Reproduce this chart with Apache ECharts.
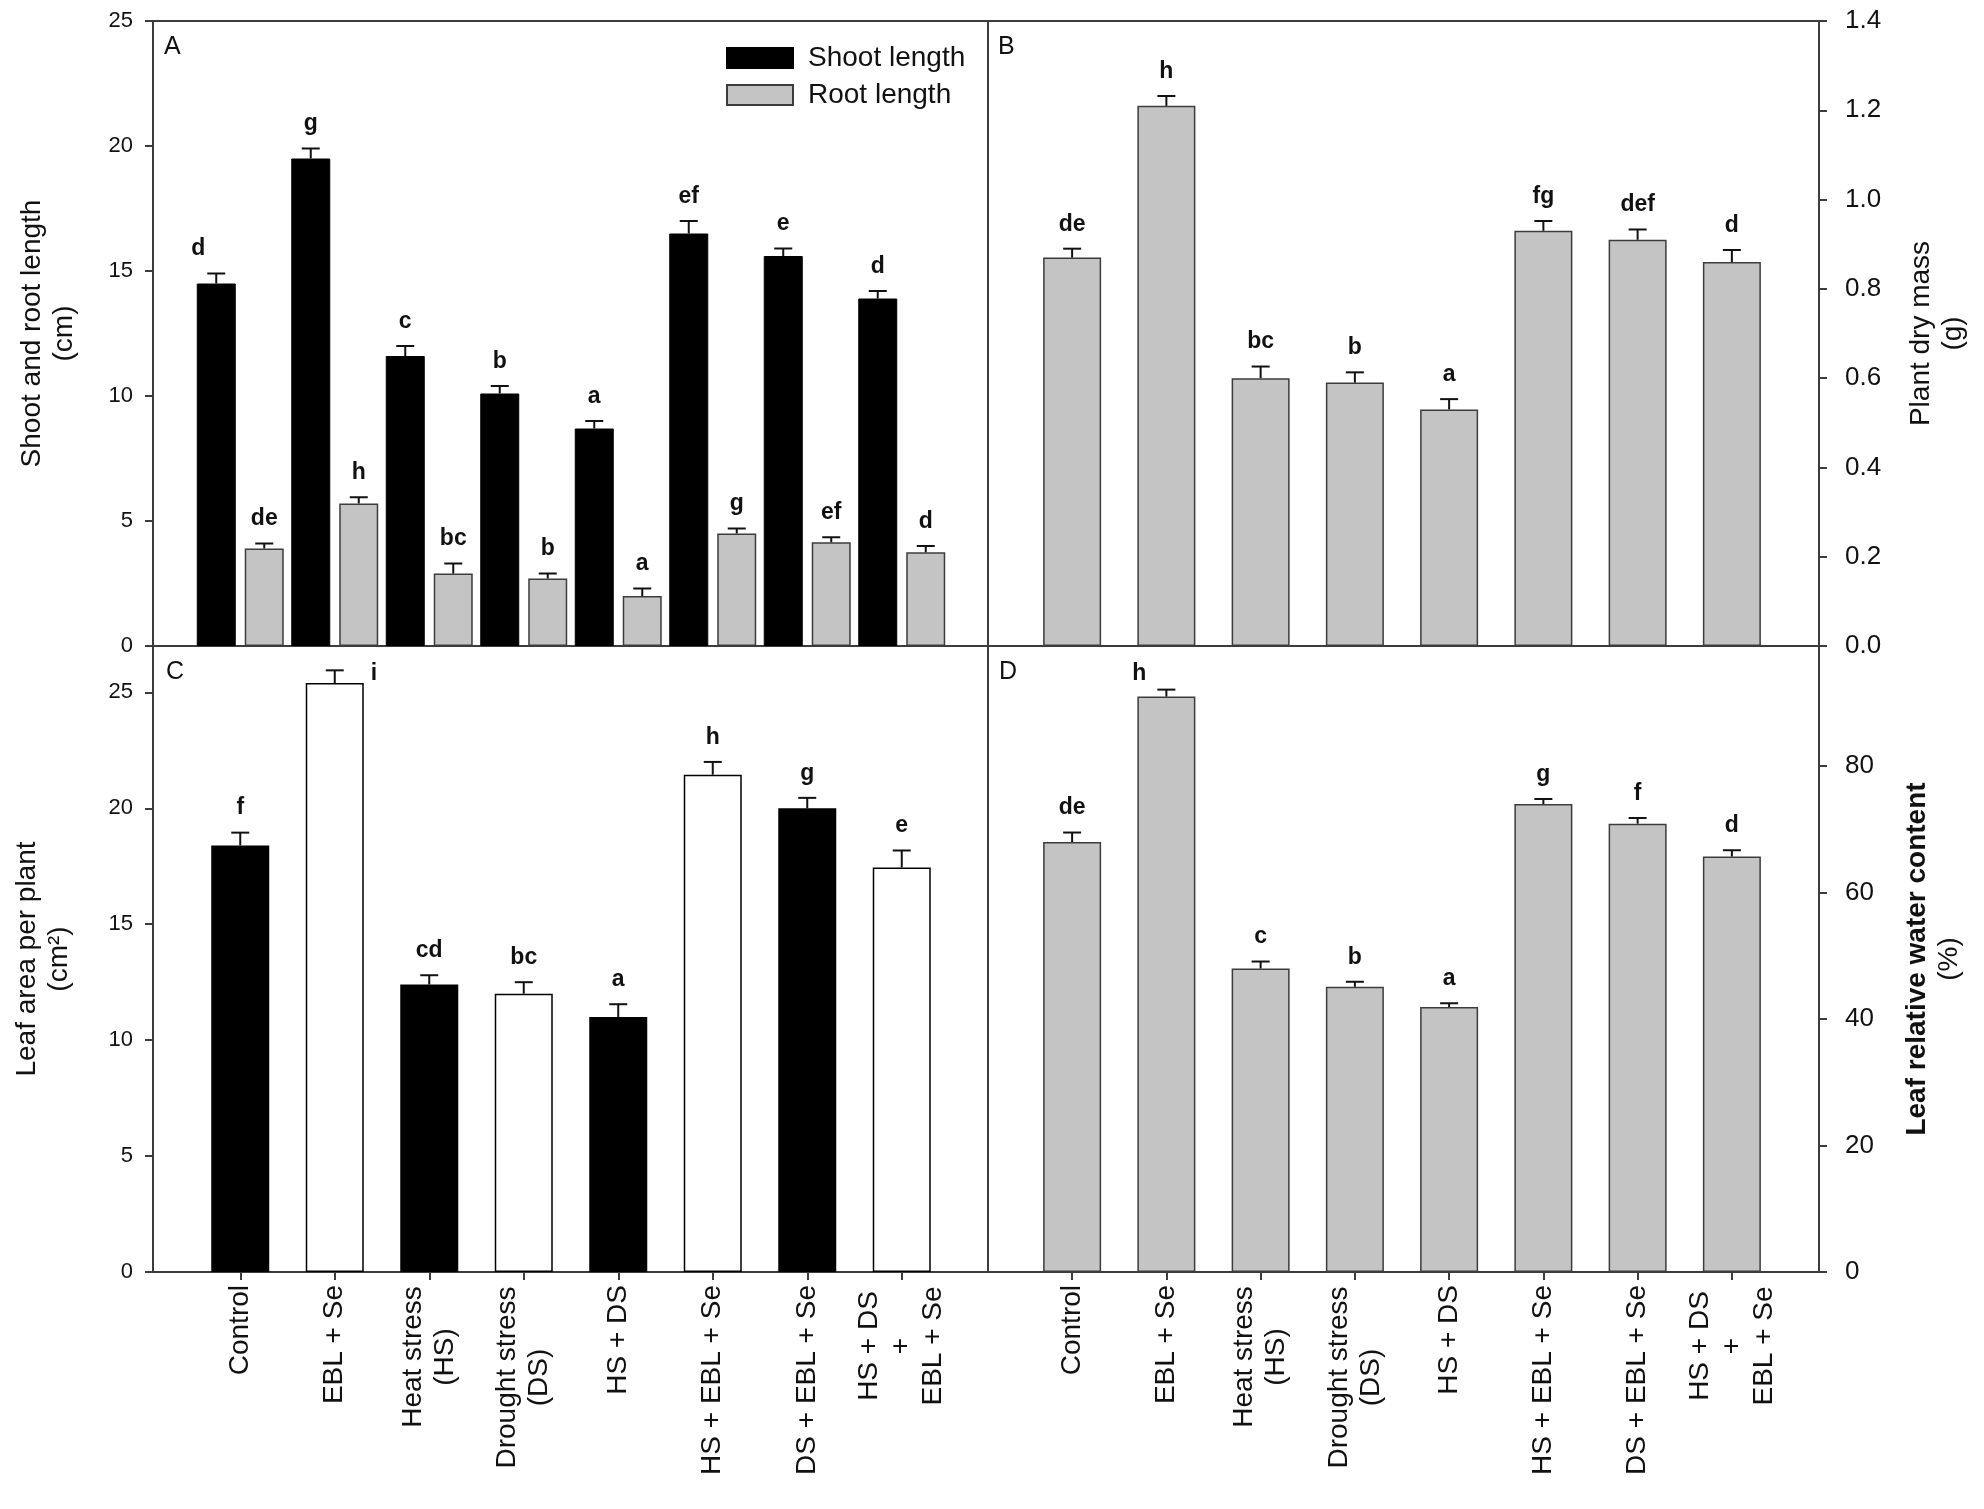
<!DOCTYPE html>
<html lang="en">
<head>
<meta charset="UTF-8">
<title>Growth and water status</title>
<script src="https://cdn.jsdelivr.net/npm/echarts@6.0.0/dist/echarts.min.js"></script>
<style>
  html, body { margin: 0; padding: 0; background: #fff; }
  #chart { width: 1984px; height: 1509px; }
</style>
</head>
<body>
<div id="chart"></div>
<script>
// treatments (x categories, shared by all four panels)
var treatments = ['Control', 'EBL + Se', 'Heat stress\n(HS)', 'Drought stress\n(DS)', 'HS + DS',
                  'HS + EBL + Se', 'DS + EBL + Se', 'HS + DS\n+\nEBL + Se'];

// A - shoot and root length (cm)
var shootLength  = [14.5, 19.5, 11.6, 10.1, 8.7, 16.5, 15.6, 13.9];
var shootSE      = [0.4, 0.4, 0.4, 0.3, 0.3, 0.5, 0.3, 0.3];
var shootLetters = ['d', 'g', 'c', 'b', 'a', 'ef', 'e', 'd'];
var rootLength   = [3.9, 5.7, 2.9, 2.7, 2.0, 4.5, 4.15, 3.75];
var rootSE       = [0.2, 0.25, 0.4, 0.2, 0.3, 0.2, 0.2, 0.25];
var rootLetters  = ['de', 'h', 'bc', 'b', 'a', 'g', 'ef', 'd'];

// B - plant dry mass (g)
var dryMass        = [0.87, 1.21, 0.60, 0.59, 0.53, 0.93, 0.91, 0.86];
var dryMassSE      = [0.02, 0.022, 0.026, 0.023, 0.023, 0.022, 0.023, 0.027];
var dryMassLetters = ['de', 'h', 'bc', 'b', 'a', 'fg', 'def', 'd'];

// C - leaf area per plant (cm2)
var leafArea        = [18.4, 25.4, 12.4, 12.0, 11.0, 21.45, 20.0, 17.45];
var leafAreaSE      = [0.55, 0.55, 0.4, 0.5, 0.55, 0.55, 0.45, 0.73];
var leafAreaLetters = ['f', 'i', 'cd', 'bc', 'a', 'h', 'g', 'e'];

// D - leaf relative water content (%)
var rwc        = [68, 91, 48, 45.1, 41.9, 74, 70.9, 65.7];
var rwcSE      = [1.5, 1.1, 1.1, 0.8, 0.6, 0.8, 0.9, 1.0];
var rwcLetters = ['de', 'h', 'c', 'b', 'a', 'g', 'f', 'd'];

var FONT = '"Liberation Sans", Arial, Helvetica, sans-serif';
var GRAY = '#c4c4c4';
var EDGE = '#3c3c3c';
var INK = '#111';

// panel frames (outer grids) and the inset band area where the bars sit
var frames = [
  { left: 153, top: 21, width: 835, height: 625 },
  { left: 988, top: 21, width: 831, height: 625 },
  { left: 153, top: 646, width: 835, height: 626 },
  { left: 988, top: 646, width: 831, height: 626 }
];
var insets = [
  { left: 193, width: 756 }, { left: 1025, width: 754 },
  { left: 193, width: 756 }, { left: 1025, width: 754 }
];

var yScales = [
  { min: 0, max: 25, interval: 5, side: 'left', size: 22, margin: 20,
    name: 'Shoot and root length\n(cm)', gap: 73 },
  { min: 0, max: 1.4, interval: 0.2, side: 'right', size: 26, margin: 26, dec: 1,
    name: 'Plant dry mass\n(g)', gap: 86 },
  { min: 0, max: 27, interval: 5, side: 'left', size: 22, margin: 20, hideMax: true,
    name: 'Leaf area per plant\n(cm\u00b2)', gap: 78 },
  { min: 0, max: 99, interval: 20, side: 'right', size: 26, margin: 26, hideMax: true,
    name: '{b|Leaf relative water content}\n(%)', gap: 82 }
];

// rich styles so stacked category lines are centred on each other
var measure = document.createElement('canvas').getContext('2d');
measure.font = '28px ' + FONT;
var labelRich = {};
treatments.forEach(function (t, i) {
  var lines = t.split('\n');
  if (lines.length > 1) {
    var w = Math.max.apply(null, lines.map(function (l) { return measure.measureText(l).width; }));
    labelRich['w' + i] = { width: Math.ceil(w) + 2, align: 'center', fontSize: 28, lineHeight: 32, fontFamily: FONT, color: INK };
  }
});
function catLabel(value) {
  var lines = value.split('\n');
  if (lines.length === 1) return value;
  var i = treatments.indexOf(value);
  return lines.map(function (l) { return '{w' + i + '|' + l + '}'; }).join('\n');
}

var grids = [], xAxes = [], yAxes = [];
frames.forEach(function (f, k) {
  grids.push({ left: f.left, top: f.top, width: f.width, height: f.height,
               show: true, borderColor: EDGE, borderWidth: 2, backgroundColor: 'transparent' });
  var s = yScales[k];
  xAxes.push({ gridIndex: k, type: 'value', min: 0, max: 1, show: false });
  yAxes.push({
    gridIndex: k, type: 'value', min: s.min, max: s.max, interval: s.interval, position: s.side,
    axisLine: { show: true, onZero: false, lineStyle: { color: EDGE, width: 2 } },
    axisTick: { show: true, inside: false, length: 8, lineStyle: { color: EDGE, width: 2 } },
    splitLine: { show: false },
    axisLabel: {
      fontSize: s.size, fontFamily: FONT, color: INK, margin: s.margin, showMaxLabel: !s.hideMax,
      formatter: function (v) { return s.dec ? v.toFixed(s.dec) : String(v); }
    },
    name: s.name, nameLocation: 'middle', nameGap: s.gap, nameRotate: 90,
    nameTextStyle: { fontSize: 28, fontFamily: FONT, color: INK, lineHeight: 32,
                     rich: { b: { fontSize: 28, fontWeight: 'bold', fontFamily: FONT, color: INK, lineHeight: 32 } } }
  });
});
frames.forEach(function (f, k) {
  var ins = insets[k];
  var bottomRow = k >= 2;
  grids.push({ left: ins.left, top: f.top, width: ins.width, height: f.height });
  xAxes.push({
    gridIndex: 4 + k, type: 'category', data: treatments,
    axisLine: { show: false, onZero: false },
    axisTick: { show: bottomRow, alignWithLabel: true, length: 8, lineStyle: { color: EDGE, width: 2 } },
    axisLabel: { show: bottomRow, rotate: 90, interval: 0, margin: 13, fontSize: 28, lineHeight: 32,
                 fontFamily: FONT, color: INK, formatter: catLabel, rich: labelRich }
  });
  yAxes.push({ gridIndex: 4 + k, type: 'value', min: yScales[k].min, max: yScales[k].max, show: false });
});

// upward error bars with significance letters above them
function errorSeries(axis, values, se, letters, offset, nudges) {
  return {
    type: 'custom', xAxisIndex: axis, yAxisIndex: axis, z: 5, silent: true,
    data: values.map(function (v, i) { return [i, v, se[i]]; }),
    renderItem: function (params, api) {
      var i = params.dataIndex;
      var base = api.coord([api.value(0), api.value(1)]);
      var top = api.coord([api.value(0), api.value(1) + api.value(2)]);
      var x = base[0] + offset;
      var ls = { stroke: INK, lineWidth: 2 };
      var n = nudges[i] || {};
      var tx = x + (n.dx || 0), ty = top[1] - (n.gap == null ? 13 : n.gap), align = 'center';
      if (n.beside) { tx = x + n.beside; ty = base[1] + 2; align = 'left'; }
      return {
        type: 'group',
        children: [
          { type: 'line', shape: { x1: x, y1: base[1], x2: x, y2: top[1] }, style: ls },
          { type: 'line', shape: { x1: x - 9, y1: top[1], x2: x + 9, y2: top[1] }, style: ls },
          { type: 'text', x: tx, y: ty,
            style: { text: letters[i], align: align, verticalAlign: 'bottom', fill: INK,
                     fontSize: 23, fontWeight: 'bold', fontFamily: FONT } }
        ]
      };
    }
  };
}

var grayBar = { color: GRAY, borderColor: EDGE, borderWidth: 1.5 };

var option = {
  animation: false,
  backgroundColor: '#fff',
  title: [
    { text: 'A', left: 164, top: 35 },
    { text: 'B', left: 998, top: 35 },
    { text: 'C', left: 166, top: 660 },
    { text: 'D', left: 999, top: 660 }
  ].map(function (t) {
    t.padding = 0;
    t.textStyle = { fontSize: 25, fontWeight: 'normal', fontFamily: FONT, color: INK };
    return t;
  }),
  legend: {
    data: ['Shoot length', 'Root length'], orient: 'vertical', left: 726, top: 44, padding: 0,
    itemWidth: 66, itemHeight: 20, itemGap: 9, icon: 'rect',
    textStyle: { fontSize: 28, lineHeight: 28, fontFamily: FONT, color: INK, padding: [0, 0, 0, 10] }
  },
  grid: grids,
  xAxis: xAxes,
  yAxis: yAxes,
  series: [
    { type: 'bar', name: 'Shoot length', xAxisIndex: 4, yAxisIndex: 4, data: shootLength,
      barWidth: 39, barGap: '23%', itemStyle: { color: '#000', borderColor: '#000', borderWidth: 1 } },
    { type: 'bar', name: 'Root length', xAxisIndex: 4, yAxisIndex: 4, data: rootLength,
      barWidth: 39, barGap: '23%', itemStyle: grayBar },
    errorSeries(4, shootLength, shootSE, shootLetters, -24, { 0: { dx: -18 } }),
    errorSeries(4, rootLength, rootSE, rootLetters, 24, {}),

    { type: 'bar', name: 'Plant dry mass', xAxisIndex: 5, yAxisIndex: 5, data: dryMass,
      barWidth: 58, itemStyle: grayBar },
    errorSeries(5, dryMass, dryMassSE, dryMassLetters, 0, {}),

    { type: 'bar', name: 'Leaf area', xAxisIndex: 6, yAxisIndex: 6, barWidth: 58,
      data: leafArea.map(function (v, i) {
        return { value: v, itemStyle: { color: i % 2 === 0 ? '#000' : '#fff', borderColor: '#000', borderWidth: 1.5 } };
      }) },
    errorSeries(6, leafArea, leafAreaSE, leafAreaLetters, 0, { 1: { beside: 36 } }),

    { type: 'bar', name: 'Leaf RWC', xAxisIndex: 7, yAxisIndex: 7, data: rwc,
      barWidth: 58, itemStyle: grayBar },
    errorSeries(7, rwc, rwcSE, rwcLetters, 0, { 1: { dx: -27, gap: 4 } })
  ]
};

var chart = echarts.init(document.getElementById('chart'));
chart.setOption(option);
</script>
</body>
</html>
